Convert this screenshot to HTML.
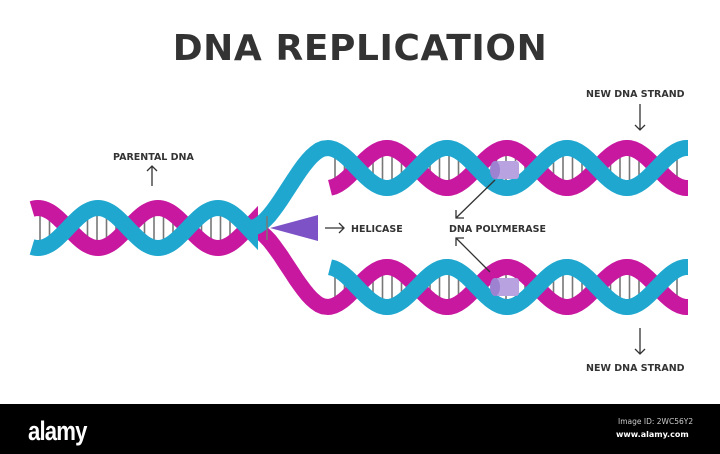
<!DOCTYPE html>
<html><head><meta charset="utf-8"><style>
html,body{margin:0;padding:0;background:#fff;width:720px;height:454px;overflow:hidden}
svg{display:block}
text{font-family:"DejaVu Sans","Liberation Sans",sans-serif;font-weight:bold;fill:#333}
</style></head><body>
<svg id="s" width="720" height="454" viewBox="0 0 720 454" xmlns="http://www.w3.org/2000/svg">
<rect width="720" height="454" fill="#fff"/>
<g id="rungs" stroke="#777" stroke-width="1.6"></g>
<g id="mag" fill="none" stroke="#c8189f" stroke-width="16" stroke-linecap="butt"></g>
<g id="blu" fill="none" stroke="#1fa7cf" stroke-width="16" stroke-linecap="butt"></g>
<text x="360" y="60" font-size="36" text-anchor="middle" letter-spacing="0.6">DNA REPLICATION</text>
<text x="113" y="160" font-size="9.5">PARENTAL DNA</text>
<text x="586" y="97" font-size="9.5">NEW DNA STRAND</text>
<text x="586" y="371" font-size="9.5">NEW DNA STRAND</text>
<text x="351" y="232" font-size="9.5">HELICASE</text>
<text x="449" y="232" font-size="9.5">DNA POLYMERASE</text>
<g stroke="#333" stroke-width="1.3" fill="none">
<path d="M152 186V166M147 171L152 166L157 171"/>
<path d="M640 104V130M635 125L640 130L645 125"/>
<path d="M640 328V354M635 349L640 354L645 349"/>
<path d="M325 228H344M339 223L344 228L339 233"/>
<path d="M495 180L456 218M456 210V218H464"/>
<path d="M490 272L456 238M456 246V238H464"/>
</g>
<polygon points="270,228 318,215 318,241" fill="#7d52c6"/>
<line x1="267" y1="216" x2="267" y2="240" stroke="#777" stroke-width="1.5"/>
<g fill="#b9a2e0"><rect x="495" y="161" width="24" height="18" rx="3"/><ellipse cx="495" cy="170" rx="5" ry="9" fill="#9d82d2"/>
<rect x="495" y="278" width="24" height="18" rx="3"/><ellipse cx="495" cy="287" rx="5" ry="9" fill="#9d82d2"/></g>
<rect x="0" y="404" width="720" height="50" fill="#000"/>
<text x="0" y="0" font-size="27" style="fill:#fff;font-family:'Liberation Sans',sans-serif" letter-spacing="-1" transform="translate(28,440) scale(0.82,1)">alamy</text>
<text x="618" y="424" font-size="7.5" style="fill:#ccc;font-weight:normal">Image ID: 2WC56Y2</text>
<text x="616" y="437" font-size="8" style="fill:#fff">www.alamy.com</text>
</svg>
<script>
var NS="http://www.w3.org/2000/svg",A=20,P=120;
function f(c,x0,sgn){return function(x){return c-sgn*A*Math.sin(2*Math.PI*(x-x0)/P);};}
function path(pts){return "M"+pts.map(function(p){return p[0].toFixed(1)+" "+p[1].toFixed(1)}).join("L");}
function add(g,d){var e=document.createElementNS(NS,"path");e.setAttribute("d",d);document.getElementById(g).appendChild(e);}
function line(x,y1,y2){var e=document.createElementNS(NS,"line");e.setAttribute("x1",x);e.setAttribute("x2",x);e.setAttribute("y1",y1);e.setAttribute("y2",y2);document.getElementById("rungs").appendChild(e);}
function sample(fn,a,b){var r=[];for(var x=a;x<=b;x+=2)r.push([x,fn(x)]);return r;}
function rungs(f1,f2,a,b){for(var x=a;x<=b;x+=9.5){var y1=f1(x),y2=f2(x);if(Math.abs(y1-y2)>16)line(x,Math.min(y1,y2)+4,Math.max(y1,y2)-4);}}
var pb=f(228,68,1),pm=f(228,68,-1);
var tb=f(168,357,-1),tm=f(168,357,1);
var bb=f(287,357,-1),bm=f(287,357,1);
rungs(pb,pm,40,250);rungs(tb,tm,335,680);rungs(bb,bm,335,680);
var m1=sample(pm,32,250);
for(var t=0;t<=1;t+=0.05){var x=250+(327-250)*t;var y=228+(307-228)*(t*t*(3-2*t));m1.push([x,y]);}
m1=m1.concat(sample(bm,328,688));
add("mag",path(m1));
add("mag",path(sample(tm,330,688)));
var b1=sample(pb,32,250);
for(var t=0;t<=1;t+=0.05){var x=250+(327-250)*t;var y=228+(148-228)*(t*t*(3-2*t));b1.push([x,y]);}
b1=b1.concat(sample(tb,328,688));
add("blu",path(b1));
add("blu",path(sample(bb,330,688)));
</script>
</body></html>
